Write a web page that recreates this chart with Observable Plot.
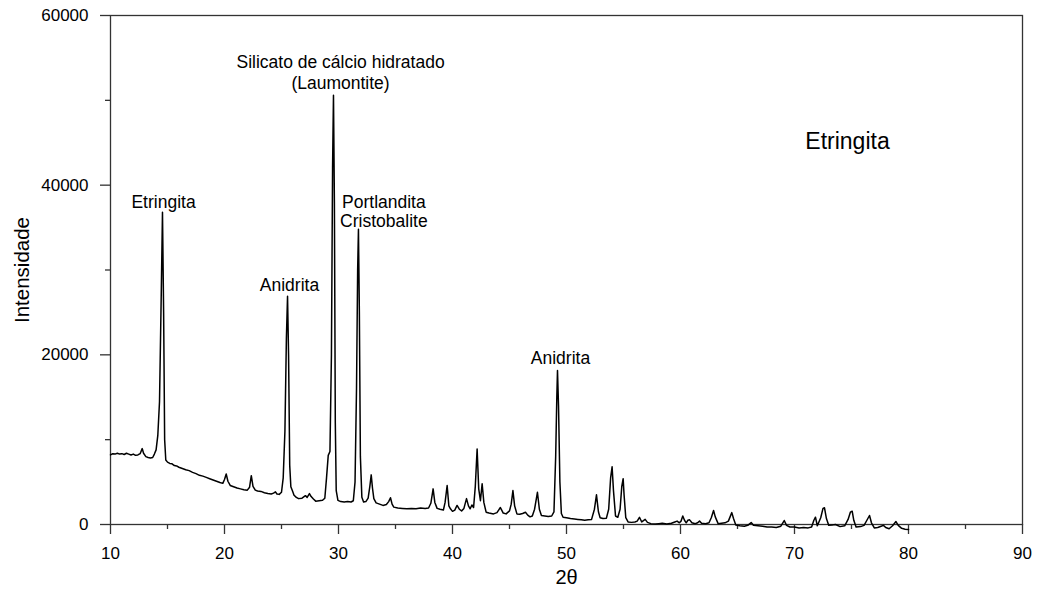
<!DOCTYPE html>
<html>
<head>
<meta charset="utf-8">
<script src="https://cdn.jsdelivr.net/npm/d3@7"></script>
<script src="https://cdn.jsdelivr.net/npm/@observablehq/plot@0.6"></script>
<style>
  html, body { margin: 0; padding: 0; background: #fff; }
  #chart svg { display: block; }
</style>
</head>
<body>
<div id="chart"></div>
<script>
// 2θ (degrees)
const twoTheta = [
  10.0,10.2,10.4,10.6,10.8,11.0,11.2,11.4,11.6,11.8,12.0,12.2,12.4,12.6,12.78,12.9,13.1,13.3,13.5,13.7,13.85,
  14.0,14.15,14.3,14.45,14.56,14.66,14.75,14.85,15.0,15.2,15.4,15.6,15.8,16.0,16.3,16.6,16.9,17.2,17.5,17.8,
  18.1,18.4,18.7,19.0,19.3,19.6,19.85,20.0,20.15,20.3,20.5,20.8,21.1,21.4,21.7,22.0,22.2,22.35,22.5,22.7,22.9,
  23.2,23.5,23.8,24.1,24.3,24.47,24.6,24.8,25.0,25.15,25.3,25.43,25.53,25.62,25.72,25.82,25.95,26.1,26.3,26.5,
  26.8,27.1,27.25,27.45,27.6,27.8,28.0,28.3,28.6,28.8,28.95,29.1,29.25,29.38,29.48,29.56,29.64,29.72,29.8,29.95,
  30.2,30.5,30.8,31.1,31.3,31.45,31.58,31.68,31.75,31.83,31.92,32.05,32.2,32.4,32.6,32.75,32.87,32.98,33.1,33.3,
  33.6,33.9,34.2,34.4,34.56,34.7,34.85,35.2,35.6,36.0,36.4,36.8,37.2,37.6,37.9,38.1,38.3,38.45,38.65,38.9,39.2,
  39.35,39.53,39.68,39.82,40.0,40.2,40.4,40.6,40.8,41.0,41.23,41.4,41.55,41.7,41.85,42.0,42.16,42.3,42.45,42.6,
  42.75,42.95,43.2,43.6,43.9,44.2,44.45,44.7,45.0,45.15,45.3,45.45,45.65,45.9,46.15,46.4,46.6,46.8,47.0,47.2,
  47.45,47.62,47.8,48.1,48.4,48.7,48.9,49.05,49.15,49.21,49.3,49.42,49.55,49.7,50.0,50.35,50.7,51.0,51.3,51.6,
  51.9,52.2,52.45,52.63,52.8,52.95,53.2,53.5,53.7,53.87,54.0,54.12,54.3,54.5,54.7,54.85,54.97,55.05,55.2,55.4,
  55.7,56.0,56.2,56.4,56.6,56.75,56.9,57.1,57.4,57.8,58.1,58.4,58.8,59.2,59.5,59.7,59.9,60.05,60.2,60.35,60.5,
  60.65,60.8,61.0,61.3,61.5,61.67,61.85,62.2,62.5,62.7,62.9,63.05,63.3,63.6,63.9,64.2,64.35,64.5,64.65,64.85,
  65.2,65.6,65.9,66.2,66.4,66.8,67.2,67.6,68.0,68.4,68.8,69.1,69.3,69.6,70.0,70.4,70.8,71.2,71.5,71.7,71.84,
  72.0,72.3,72.5,72.63,72.8,73.0,73.3,73.6,74.0,74.4,74.7,74.9,75.06,75.2,75.4,75.8,76.1,76.35,76.58,76.75,
  77.0,77.3,77.6,77.8,78.0,78.3,78.6,78.9,79.1,79.4,79.7,80.0
];
// Intensidade (counts)
const intensidade = [
  8200,8350,8300,8400,8300,8350,8250,8400,8300,8200,8300,8150,8200,8350,8950,8400,8000,7900,7850,7900,8300,
  8800,10500,14500,27000,36800,25000,10000,7600,7350,7200,7150,6950,6900,6750,6600,6450,6350,6150,6000,5800,
  5700,5550,5400,5250,5100,4950,4850,5300,5950,5100,4600,4450,4300,4200,4100,4050,4400,5750,4500,4050,3950,
  3900,3750,3650,3600,3700,3850,3600,3550,3800,5500,11000,22000,26900,20000,7000,4450,4000,3450,3200,3050,
  3100,3400,3200,3650,3300,3000,2750,2800,2850,3100,5500,8150,8600,20000,42000,50600,38000,12000,4000,2850,
  2700,2650,2700,2650,2800,5000,16000,30000,34800,25000,8000,3200,2650,2700,3100,4500,5850,4300,3050,2550,
  2400,2250,2350,2700,3150,2400,2050,1950,1900,1850,1900,1850,1950,1900,1950,2500,4200,2600,1900,1800,1700,
  2600,4600,2200,1850,1550,1700,2250,1800,1600,1900,3050,2200,1850,2300,2000,4500,8900,4200,2800,4800,
  2600,1450,1350,1250,1400,2000,1350,1250,1600,2400,4000,2200,1250,1200,1300,1450,1100,900,1000,1800,
  3800,1800,1050,1000,950,1000,1500,8000,15000,18150,14000,5000,1300,850,800,700,650,600,550,500,
  550,600,1800,3500,1500,800,700,750,1800,5500,6800,4000,1000,850,1800,4500,5400,3500,800,300,
  250,300,400,850,300,450,600,250,100,50,100,150,50,150,300,400,200,400,1000,500,200,
  500,550,200,100,200,400,150,100,200,800,1650,900,100,150,200,400,900,1400,700,-50,
  -150,-200,-100,230,-100,-150,-200,-300,-300,-350,-200,470,-100,-300,-300,-400,-350,-400,-300,500,860,
  -150,800,1900,1970,700,-100,-50,0,-250,-150,600,1450,1570,500,-300,-250,-100,500,1060,200,
  -400,-350,-200,-100,-350,-500,-150,350,-100,-450,-550,-600
];

const xMajorTicks = [10, 20, 30, 40, 50, 60, 70, 80, 90];
const xMinorTicks = [15, 25, 35, 45, 55, 65, 75, 85];
const yMajorTicks = [0, 20000, 40000, 60000];
const yMinorTicks = [10000, 30000, 50000];

// Peak annotations: label, 2θ, intensity at the label's centre
const peakLabels = ["Etringita", "Anidrita", "Silicato de cálcio hidratado", "(Laumontite)", "Portlandita", "Cristobalite", "Anidrita"];
const peakLabelX = [14.65, 25.7, 30.18, 30.18, 33.98, 33.98, 49.47];
const peakLabelY = [38000, 28200, 54500, 52000, 38000, 35700, 19600];

const sampleTitle = ["Etringita"];
const sampleTitleX = [74.65];
const sampleTitleY = [45150];

const xLabel = "2θ";
const yLabel = "Intensidade";

const data = twoTheta.map((x, i) => ({x, y: intensidade[i]}));
const annotations = peakLabels.map((t, i) => ({t, x: peakLabelX[i], y: peakLabelY[i]}));
const titles = sampleTitle.map((t, i) => ({t, x: sampleTitleX[i], y: sampleTitleY[i]}));

const font = "'Liberation Sans', Arial, sans-serif";

const chart = Plot.plot({
  width: 1040,
  height: 595,
  marginLeft: 110,
  marginRight: 18,
  marginTop: 15,
  marginBottom: 71,
  style: {fontFamily: font, fontSize: "17px", color: "#000", background: "#fff"},
  x: {domain: [10, 90]},
  y: {domain: [0, 60000]},
  marks: [
    Plot.axisX({ticks: xMajorTicks, tickSize: 10, tickPadding: 12, label: null, tickFormat: d => String(d), fontSize: 17, stroke: "#333", strokeWidth: 1.3}),
    Plot.axisX({ticks: xMinorTicks, tickSize: 5, label: null, tickFormat: () => "", stroke: "#333", strokeWidth: 1.3}),
    Plot.axisY({ticks: yMajorTicks, tickSize: 10, tickPadding: 12, label: null, tickFormat: d => String(d), fontSize: 17, stroke: "#333", strokeWidth: 1.3}),
    Plot.axisY({ticks: yMinorTicks, tickSize: 5, label: null, tickFormat: () => "", stroke: "#333", strokeWidth: 1.3}),
    Plot.frame({stroke: "#333", strokeWidth: 1.3}),
    Plot.line(data, {x: "x", y: "y", stroke: "#000", strokeWidth: 1.5}),
    Plot.text(annotations, {x: "x", y: "y", text: "t", fontSize: 17.5, fill: "#000"}),
    Plot.text(titles, {x: "x", y: "y", text: "t", fontSize: 23, fill: "#000"}),
    Plot.text([xLabel], {text: d => d, frameAnchor: "bottom", dy: 59, fontSize: 20, fill: "#000"}),
    Plot.text([yLabel], {text: d => d, frameAnchor: "left", textAnchor: "middle", dx: -88, rotate: -90, fontSize: 20.5, fill: "#000"})
  ]
});

document.getElementById("chart").appendChild(chart);
</script>
</body>
</html>
